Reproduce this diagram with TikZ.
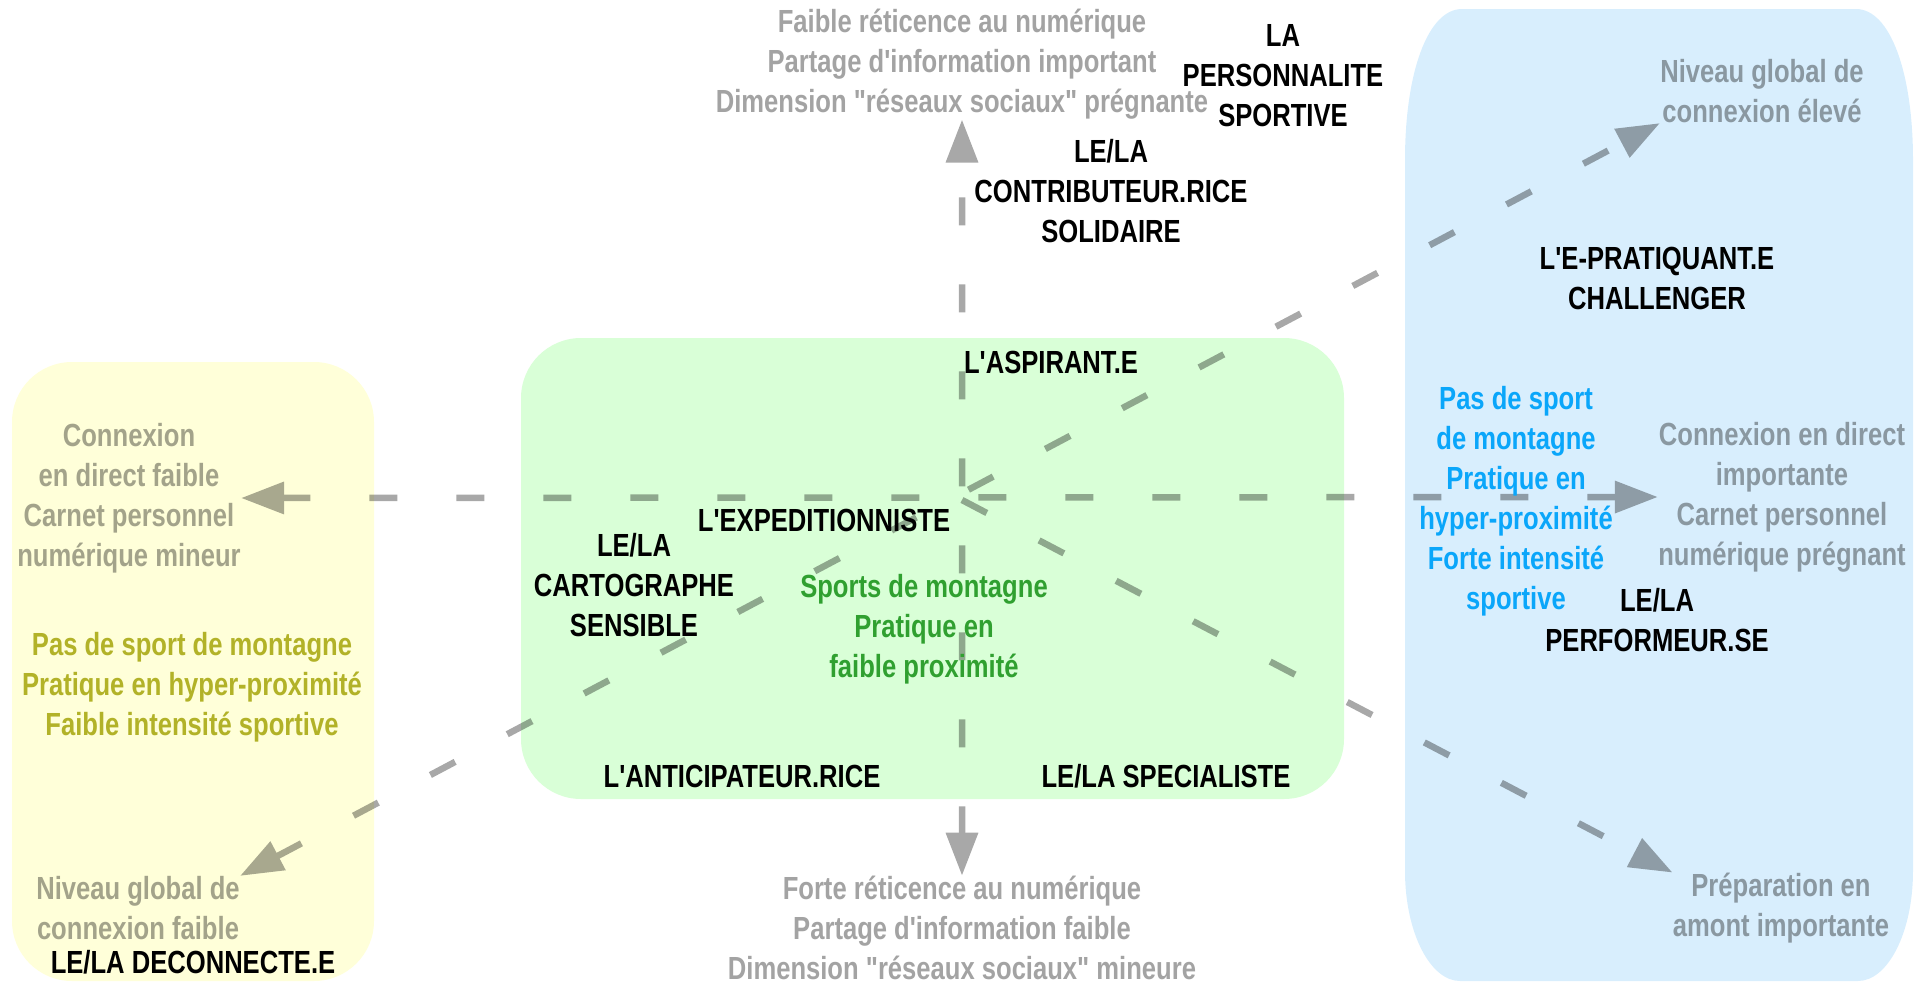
\documentclass[tikz,border=0pt]{standalone}
\usepackage{fontspec}
\usepackage{xcolor}
\usepackage{tikz}
\usetikzlibrary{arrows.meta, backgrounds}
\newfontfamily\labfont{Liberation Sans}[FakeStretch=0.8]

\definecolor{boxyellow}{RGB}{255,255,217}
\definecolor{boxgreen}{RGB}{217,255,215}
\definecolor{boxblue}{RGB}{216,238,253}
\definecolor{txtolive}{RGB}{178,178,40}
\definecolor{txtgreen}{RGB}{48,160,48}
\definecolor{txtblue}{RGB}{10,166,250}

\tikzset{
  lab/.style={align=center, inner sep=0pt, font=\labfont\bfseries\fontsize{16}{20}\selectfont},
  persona/.style={lab, text=black},
  trait/.style={lab, text=black, text opacity=0.36},
  axis/.style={line width=3.25pt, draw=black, dash pattern=on 14pt off 29.5pt,
    {Triangle[length=21.5pt,width=15.5pt]}-{Triangle[length=21.5pt,width=15.5pt]}},
  halfaxis/.style={axis, -{Triangle[length=21.5pt,width=15.5pt]}}
}

\begin{document}
\begin{tikzpicture}[x=0.5pt, y=-0.5pt]
    \useasboundingbox (0,0) rectangle (1919,986);
    % poles of the axes
    \node (topTxt) [trait] at (962,64) {Faible réticence au numérique\\Partage d'information important\\Dimension "réseaux sociaux" prégnante};
    \node (bottomTxt) [trait] at (962,928) {Forte réticence au numérique\\Partage d'information faible\\Dimension "réseaux sociaux" mineure};
    \node (leftTxt) [trait] at (129,498) {Connexion\\en direct faible\\Carnet personnel\\numérique mineur};
    \node (rightTxt) [trait] at (1782,497) {Connexion en direct\\importante\\Carnet personnel\\numérique prégnant};
    \node (neTxt) [trait] at (1762,91) {Niveau global de\\connexion élevé};
    \node (swTxt) [trait] at (138,908) {Niveau global de\\connexion faible};
    \node (seTxt) [trait] at (1781,908) {Préparation en\\amont importante};
    % profiles
    \node (personnalite) [persona] at (1283,76) {LA\\PERSONNALITE\\SPORTIVE};
    \node (contributeur) [persona] at (1111,191) {LE/LA\\CONTRIBUTEUR.RICE\\SOLIDAIRE};
    \node (challenger) [persona] at (1657,278) {L'E-PRATIQUANT.E\\CHALLENGER};
    \node (aspirant) [persona] at (1051,362) {L'ASPIRANT.E};
    \node (expeditionniste) [persona] at (824,520) {L'EXPEDITIONNISTE};
    \node (cartographe) [persona] at (634,585) {LE/LA\\CARTOGRAPHE\\SENSIBLE};
    \node (anticipateur) [persona] at (742,776) {L'ANTICIPATEUR.RICE};
    \node (specialiste) [persona] at (1166,776) {LE/LA SPECIALISTE};
    \node (performeur) [persona] at (1657,620) {LE/LA\\PERFORMEUR.SE};
    \node (deconnecte) [persona] at (193,962) {LE/LA DECONNECTE.E};
    % kinds of practice
    \node (yellowTxt) [lab, text=txtolive] at (192,687) {Pas de sport de montagne\\Pratique en hyper-proximité\\Faible intensité sportive};
    \node (greenTxt) [lab, text=txtgreen] at (924,629) {Sports de montagne\\Pratique en\\faible proximité};
    \node (blueTxt) [lab, text=txtblue] at (1516,501) {Pas de sport\\de montagne\\Pratique en\\hyper-proximité\\Forte intensité\\sportive};
    \coordinate (c) at (962,500);

    \begin{pgfonlayer}{background}
        \fill [boxyellow, rounded corners=30pt] (12,362) rectangle (374,981);
        \fill [boxgreen, rounded corners=30pt] (521,338) rectangle (1344,799);
        \fill [boxblue] (1405,160) .. controls (1405,72) and (1428,9) .. (1462,9)
            -- (1856,9) .. controls (1890,9) and (1913,72) .. (1913,160)
            -- (1913,871) .. controls (1913,932) and (1888,981) .. (1858,981)
            -- (1460,981) .. controls (1430,981) and (1405,932) .. (1405,871) -- cycle;
        \begin{scope}[transparency group, opacity=0.34]
            \draw [axis] (bottomTxt.north) -- (topTxt.south);
            \draw [axis] (leftTxt.east) -- (rightTxt.west);
            \draw [axis] (swTxt.north east) -- (neTxt.south west);
            \draw [halfaxis] (c) -- (seTxt.north west);
        \end{scope}
    \end{pgfonlayer}
\end{tikzpicture}
\end{document}
